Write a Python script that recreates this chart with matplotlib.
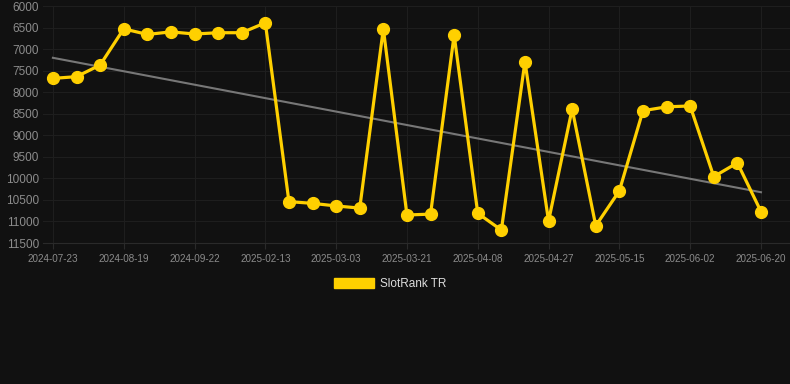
import numpy as np
import matplotlib.pyplot as plt
from matplotlib.patches import Patch

# ranks per snapshot (lower is better, axis is inverted)
ranks = [7680, 7640, 7370, 6530, 6660, 6600, 6650, 6620, 6620, 6390,
         10540, 10580, 10640, 10690, 6530, 10850, 10830, 6670, 10810, 11200,
         7290, 10990, 8390, 11100, 10290, 8430, 8340, 8320, 9960, 9640,
         10770]
date_labels = ['2024-07-23', '2024-08-19', '2024-09-22', '2025-02-13',
               '2025-03-03', '2025-03-21', '2025-04-08', '2025-04-27',
               '2025-05-15', '2025-06-02', '2025-06-20']
y_ticks = list(range(6000, 11501, 500))

bg = '#111111'
yellow = '#FFD000'

plt.rcParams['font.family'] = ['Liberation Sans', 'DejaVu Sans']

fig = plt.figure(figsize=(7.9, 3.84), dpi=100, facecolor=bg)
ax = fig.add_axes([43/790, 1-243/384, 747/790, (243-6)/384])
ax.set_facecolor(bg)

x = np.arange(len(ranks))
# trend line
k, b = np.polyfit(x, ranks, 1)
ax.plot(x, k*x + b, color='#777777', lw=1.5, zorder=2)

ax.plot(x, ranks, color=yellow, lw=2.3, marker='o', markersize=8.5,
        solid_joinstyle='miter', zorder=3, clip_on=False)

ax.set_ylim(11500, 6000)
ax.set_yticks(y_ticks)
ax.set_xlim(-0.42, 31.23)
ax.set_xticks(x[::3])
ax.set_xticklabels(date_labels)

ax.grid(True, color='#1e1e1e', lw=0.8)
ax.set_axisbelow(True)
for s in ax.spines.values():
    s.set_visible(False)
ax.spines['bottom'].set_visible(True)
ax.spines['bottom'].set_color('#2a2a2a')
ax.spines['bottom'].set_linewidth(0.8)
ax.tick_params(axis='y', length=0, pad=3, labelsize=8.5, labelcolor='#8c8c8c')
ax.tick_params(axis='x', length=4, color='#2a2a2a', pad=4, labelsize=7.1,
               labelcolor='#8c8c8c')

leg = fig.legend(handles=[Patch(facecolor=yellow, edgecolor=yellow, label='SlotRank TR')],
                 loc='center', bbox_to_anchor=(390/790, 1-284/384), frameon=False,
                 fontsize=8.5, handlelength=3.4, handleheight=1.0, handletextpad=0.5)
for t in leg.get_texts():
    t.set_color('#dddddd')

fig.savefig('out.png', dpi=100, facecolor=bg)
